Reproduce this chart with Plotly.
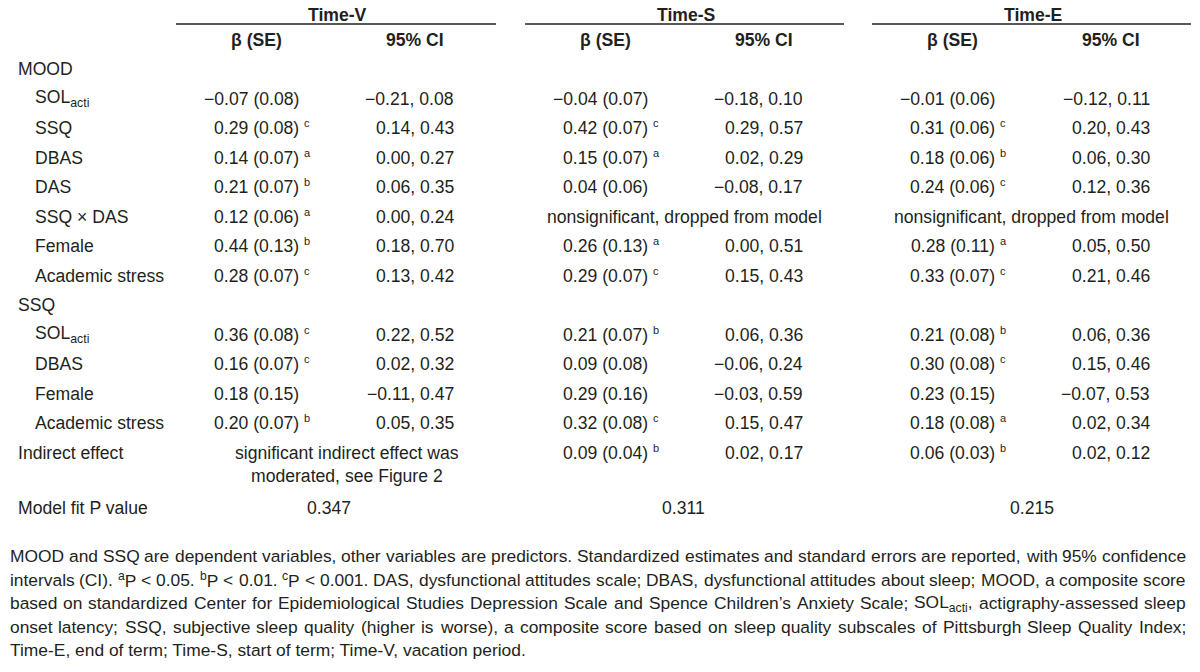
import re
import plotly.graph_objects as go

# ---------------- data ----------------
groups = ["Time-V", "Time-S", "Time-E"]
col_heads = ["β (SE)", "95% CI"]

row_labels = ["MOOD", "SOL<sub>acti</sub>", "SSQ", "DBAS", "DAS", "SSQ × DAS", "Female",
              "Academic stress", "SSQ", "SOL<sub>acti</sub>", "DBAS", "Female",
              "Academic stress", "Indirect effect"]
row_indent = [0, 1, 1, 1, 1, 1, 1, 1, 0, 1, 1, 1, 1, 0]

beta_v = ["", "−0.07 (0.08)", "0.29 (0.08)", "0.14 (0.07)", "0.21 (0.07)", "0.12 (0.06)",
          "0.44 (0.13)", "0.28 (0.07)", "", "0.36 (0.08)", "0.16 (0.07)", "0.18 (0.15)",
          "0.20 (0.07)", ""]
sig_v = ["", "", "c", "a", "b", "a", "b", "c", "", "c", "c", "", "b", ""]
ci_v = ["", "−0.21, 0.08", "0.14, 0.43", "0.00, 0.27", "0.06, 0.35", "0.00, 0.24",
        "0.18, 0.70", "0.13, 0.42", "", "0.22, 0.52", "0.02, 0.32", "−0.11, 0.47",
        "0.05, 0.35", ""]

beta_s = ["", "−0.04 (0.07)", "0.42 (0.07)", "0.15 (0.07)", "0.04 (0.06)", "",
          "0.26 (0.13)", "0.29 (0.07)", "", "0.21 (0.07)", "0.09 (0.08)", "0.29 (0.16)",
          "0.32 (0.08)", "0.09 (0.04)"]
sig_s = ["", "", "c", "a", "", "", "a", "c", "", "b", "", "", "c", "b"]
ci_s = ["", "−0.18, 0.10", "0.29, 0.57", "0.02, 0.29", "−0.08, 0.17", "",
        "0.00, 0.51", "0.15, 0.43", "", "0.06, 0.36", "−0.06, 0.24", "−0.03, 0.59",
        "0.15, 0.47", "0.02, 0.17"]

beta_e = ["", "−0.01 (0.06)", "0.31 (0.06)", "0.18 (0.06)", "0.24 (0.06)", "",
          "0.28 (0.11)", "0.33 (0.07)", "", "0.21 (0.08)", "0.30 (0.08)", "0.23 (0.15)",
          "0.18 (0.08)", "0.06 (0.03)"]
sig_e = ["", "", "c", "b", "c", "", "a", "c", "", "b", "c", "", "a", "b"]
ci_e = ["", "−0.12, 0.11", "0.20, 0.43", "0.06, 0.30", "0.12, 0.36", "",
        "0.05, 0.50", "0.21, 0.46", "", "0.06, 0.36", "0.15, 0.46", "−0.07, 0.53",
        "0.02, 0.34", "0.02, 0.12"]

span_notes = {  # (group index, row index): lines spanning both columns
    (1, 5): ["nonsignificant, dropped from model"],
    (2, 5): ["nonsignificant, dropped from model"],
    (0, 13): ["significant indirect effect was", "moderated, see Figure 2"],
}

fit_label = "Model fit P value"
fit_values = ["0.347", "0.311", "0.215"]

footnote_lines = [
    "MOOD and SSQ are dependent variables, other variables are predictors. Standardized estimates and standard errors are reported, with 95% confidence",
    "intervals (CI). <sup>a</sup>P < 0.05. <sup>b</sup>P < 0.01. <sup>c</sup>P < 0.001. DAS, dysfunctional attitudes scale; DBAS, dysfunctional attitudes about sleep; MOOD, a composite score",
    "based on standardized Center for Epidemiological Studies Depression Scale and Spence Children’s Anxiety Scale; SOL<sub>acti</sub>, actigraphy-assessed sleep",
    "onset latency; SSQ, subjective sleep quality (higher is worse), a composite score based on sleep quality subscales of Pittsburgh Sleep Quality Index;",
    "Time-E, end of term; Time-S, start of term; Time-V, vacation period.",
]

# ---------------- layout constants (screen pixels) ----------------
W, H = 1200, 672
OFF = 8  # page body margin; axis ranges are shifted so data coords == screen pixels
FONT = "Liberation Sans, Arial, sans-serif"
COLOR = "#231f20"
FS = 17.6
FS_FOOT = 17.4

group_center = [337, 686, 1033]
group_line = [(176, 496), (525, 844), (872, 1191)]
beta_head_x = [256, 605, 952]
ci_head_x = [415, 764, 1111]
beta_end_x = [300, 649, 996]
ci_end_x = [455, 804, 1151]
span_center = [347, 684, 1031]
fit_center = [329, 683, 1032]

y_group = 15
y_line = 24
y_colhead = 40
y_row0 = 69
dy = 29.5
y_fit = 508
y_foot0 = 556
dy_foot = 23.5
dy_wrap = 23.5

label_x = [17, 34]
foot_left = OFF + 0.5
foot_right = 1185

beta_cols = [beta_v, beta_s, beta_e]
sig_cols = [sig_v, sig_s, sig_e]
ci_cols = [ci_v, ci_s, ci_e]

# Arial / Liberation Sans advance widths (1/1000 em) for justifying the footnote
_AW = {" ": 278, "!": 278, "(": 333, ")": 333, ",": 278, "-": 333, ".": 278, ";": 278,
       "<": 584, "%": 889, "’": 222, ":": 278}
_AW.update({d: 556 for d in "0123456789"})
_AW.update(dict(zip("ABCDEFGHIJKLMNOPQRSTUVWXYZ",
                    [667, 667, 722, 722, 667, 611, 778, 722, 278, 500, 667, 556, 833,
                     722, 778, 667, 778, 722, 667, 611, 722, 667, 944, 667, 667, 611])))
_AW.update(dict(zip("abcdefghijklmnopqrstuvwxyz",
                    [556, 556, 500, 556, 556, 278, 556, 556, 222, 222, 500, 222, 833,
                     556, 556, 556, 556, 333, 500, 278, 556, 500, 722, 500, 500, 500])))


def text_width(s, size):
    total, scale = 0.0, 1.0
    for tok in re.split(r"(</?su[pb]>)", s):
        if tok in ("<sup>", "<sub>"):
            scale = 0.7
        elif tok in ("</sup>", "</sub>"):
            scale = 1.0
        else:
            total += sum(_AW.get(ch, 556) for ch in tok) * scale
    return total / 1000.0 * size


ann = []


def add(text, x, y, xa="left", size=FS, bold=False, yshift=0):
    ann.append(dict(text=("<b>%s</b>" % text) if bold else text, x=x, y=y,
                    xref="x", yref="y", xanchor=xa, yanchor="middle", showarrow=False,
                    yshift=yshift, borderpad=0,
                    font=dict(family=FONT, size=size, color=COLOR)))


shapes = []
for g, name in enumerate(groups):
    add(name, group_center[g], y_group, xa="center", bold=True)
    x0, x1 = group_line[g]
    shapes.append(dict(type="line", xref="x", yref="y", x0=x0, x1=x1, y0=y_line, y1=y_line,
                       line=dict(color=COLOR, width=1.4)))
    add(col_heads[0], beta_head_x[g], y_colhead, xa="center", bold=True)
    add(col_heads[1], ci_head_x[g], y_colhead, xa="center", bold=True)

for i, lab in enumerate(row_labels):
    y = y_row0 + i * dy
    add(lab, label_x[row_indent[i]], y)
    for g in range(3):
        b = beta_cols[g][i]
        if b:
            add(b, beta_end_x[g], y, xa="right")
            s = sig_cols[g][i]
            if s:
                add(s, beta_end_x[g] + 3, y, xa="left", size=11, yshift=5)
        c = ci_cols[g][i]
        if c:
            add(c, ci_end_x[g], y, xa="right")
        if (g, i) in span_notes:
            for j, txt in enumerate(span_notes[(g, i)]):
                add(txt, span_center[g], y + j * dy_wrap, xa="center")

add(fit_label, label_x[0], y_fit)
for g, v in enumerate(fit_values):
    add(v, fit_center[g], y_fit, xa="center")

# footnote: justified lines (last line left aligned)
for k, line in enumerate(footnote_lines):
    y = y_foot0 + k * dy_foot
    if k == len(footnote_lines) - 1:
        add(line, foot_left, y, xa="left", size=FS_FOOT)
        continue
    words = line.split(" ")
    widths = [text_width(wd, FS_FOOT) for wd in words]
    gap = (foot_right - foot_left - sum(widths)) / (len(words) - 1)
    x = foot_left
    for wd, wdt in zip(words, widths):
        add(wd, x, y, xa="left", size=FS_FOOT)
        x += wdt + gap

fig = go.Figure()
fig.update_layout(
    width=W, height=H,
    margin=dict(l=0, r=0, t=0, b=0),
    paper_bgcolor="white", plot_bgcolor="white",
    xaxis=dict(range=[OFF, W + OFF], visible=False, fixedrange=True),
    yaxis=dict(range=[H + OFF, OFF], visible=False, fixedrange=True),
    annotations=ann, shapes=shapes, showlegend=False,
)
fig.write_html("out.html")
